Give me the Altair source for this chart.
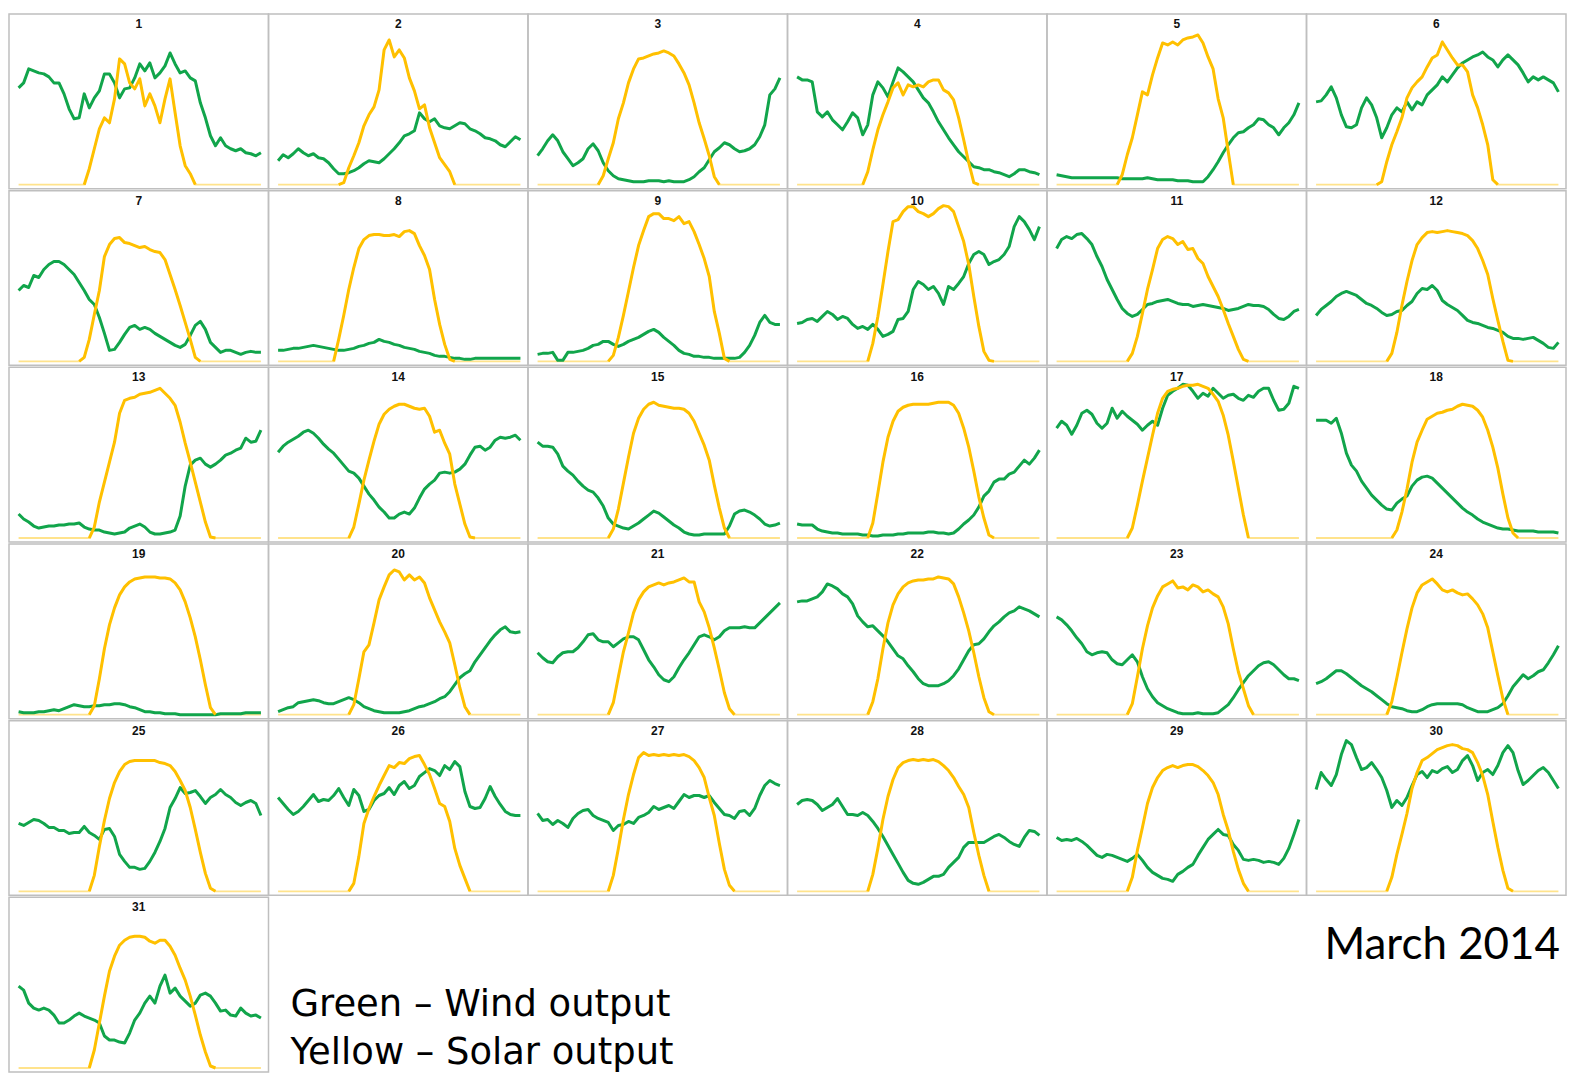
import altair as alt
import pandas as pd

# ---- wind output per day, half-hour steps (49 points, relative height units) ----
WIND_D01 = [97,102,116,114,112,111,108,102,102,91,76,66,67,91,77,87,94,111,111,102,87,96,97,107,121,114,122,107,112,119,132,121,112,114,107,104,82,67,49,39,47,39,36,34,36,32,31,29,32]
WIND_D02 = [24,30,27,31,36,32,29,31,27,26,22,16,11,11,12,14,17,21,24,23,22,26,31,36,42,49,51,54,72,66,63,66,59,57,56,59,62,61,56,54,51,47,46,44,40,38,43,48,45]
WIND_D03 = [29,36,44,50,44,33,26,19,22,26,36,41,34,22,14,9,6,5,4,3,3,3,4,4,4,3,4,3,3,3,5,8,13,17,25,33,37,42,40,36,33,34,36,40,48,60,90,96,107]
WIND_D04 = [108,105,105,103,73,68,73,65,60,55,63,72,67,50,60,90,103,97,88,103,117,113,108,103,95,87,82,73,63,55,47,40,33,28,23,18,17,15,15,13,12,10,8,11,15,15,13,12,10]
WIND_D05 = [10,9,8,7,7,7,7,7,7,7,7,7,7,6,6,6,6,6,7,6,5,5,5,5,4,4,4,3,3,3,8,15,23,32,40,47,52,53,57,60,66,65,60,57,50,57,62,70,82]
WIND_D06 = [83,84,90,98,87,70,58,57,60,77,87,80,67,47,57,70,77,73,83,75,83,80,90,95,100,108,103,110,117,122,125,128,130,133,128,125,118,125,130,125,120,112,103,108,105,108,105,102,93]
WIND_D07 = [71,76,74,86,84,92,97,100,100,97,92,87,79,71,62,57,44,28,11,12,19,27,34,36,32,34,32,28,25,22,19,16,14,17,26,36,40,32,19,14,9,11,11,9,7,9,10,9,9]
WIND_D08 = [11,11,12,13,13,14,15,16,15,14,13,12,11,11,12,13,15,16,18,19,22,20,19,17,16,14,13,12,10,9,8,6,5,5,4,3,3,2,2,3,3,3,3,3,3,3,3,3,3]
WIND_D09 = [7,8,8,9,1,1,9,9,10,11,13,16,17,20,20,17,15,17,20,22,24,27,30,32,29,24,20,16,11,8,7,5,5,4,4,3,3,3,3,3,4,9,16,26,39,46,39,37,37]
WIND_D10 = [38,39,42,43,40,45,50,47,42,45,43,37,33,35,32,37,32,25,27,30,42,43,50,72,80,77,72,75,68,57,75,72,78,85,98,107,110,107,97,100,102,107,115,135,145,140,132,122,135]
WIND_D11 = [113,122,125,123,127,128,123,117,105,95,82,72,62,53,48,45,47,52,57,58,60,61,62,60,58,57,57,55,56,57,56,55,54,53,51,52,53,55,57,56,56,55,52,47,43,42,45,50,52]
WIND_D12 = [46,52,56,60,65,68,70,68,66,62,58,56,53,49,46,47,50,51,56,60,68,73,72,76,71,61,57,54,51,46,41,39,38,36,34,33,31,29,25,23,23,22,23,24,21,18,14,13,19]
WIND_D13 = [24,19,16,12,10,11,12,12,13,13,14,14,15,11,9,8,8,6,5,4,5,6,10,12,14,11,6,4,4,5,6,8,22,52,73,78,80,74,71,74,78,83,85,88,90,100,96,97,108]
WIND_D14 = [86,92,96,99,102,106,108,105,100,94,89,85,79,73,67,65,60,52,44,38,31,26,20,20,24,26,24,30,40,49,54,58,65,66,65,66,69,74,83,91,92,88,91,98,101,100,101,103,98]
WIND_D15 = [96,92,92,91,84,72,67,63,57,52,48,46,40,32,20,14,12,10,9,12,15,19,23,27,25,21,17,13,10,6,4,3,3,4,4,4,4,4,12,24,27,28,26,23,19,14,12,13,15]
WIND_D16 = [14,13,13,13,9,7,6,5,5,4,4,4,4,3,3,2,2,3,3,3,4,4,5,5,5,5,6,6,5,5,4,5,9,14,18,23,31,42,47,56,59,59,64,66,72,78,74,80,88]
WIND_D17 = [110,117,113,104,113,125,128,124,115,110,115,130,120,127,122,118,114,108,113,117,113,130,143,147,150,154,153,147,140,145,142,150,145,140,143,144,140,138,143,141,147,150,150,138,128,129,135,152,150]
WIND_D18 = [118,118,118,115,120,105,85,73,67,57,50,43,38,33,29,28,35,39,42,52,58,61,62,60,55,50,45,40,35,30,26,23,19,16,14,12,10,9,9,8,7,7,7,7,6,6,6,6,5]
WIND_D19 = [3,2,2,2,3,3,4,5,4,6,8,10,9,8,8,9,9,10,10,11,11,10,8,7,5,3,3,2,2,1,1,1,0,0,0,0,0,0,0,0,1,1,1,1,1,2,2,2,2]
WIND_D20 = [3,5,7,8,12,13,14,15,14,12,11,11,13,15,17,15,12,8,6,4,3,2,2,2,2,3,4,6,8,9,11,13,16,18,23,30,37,41,44,53,60,67,74,80,85,88,83,82,83]
WIND_D21 = [62,57,53,52,58,62,63,63,67,73,80,81,75,73,73,68,72,76,78,78,75,65,55,48,40,35,33,38,47,55,62,70,78,80,78,75,78,84,87,87,87,88,87,87,92,97,102,107,112]
WIND_D22 = [113,114,114,116,118,123,131,129,126,121,118,111,99,93,88,89,84,79,73,66,59,56,49,43,36,31,29,29,29,31,34,39,46,55,64,70,71,76,83,89,93,98,102,104,108,106,104,101,98]
WIND_D23 = [98,95,90,84,77,71,63,60,62,63,62,55,51,50,55,60,53,38,26,18,12,9,6,4,2,1,1,1,2,1,1,1,2,6,10,17,25,32,39,44,49,52,53,50,45,40,36,36,34]
WIND_D24 = [31,33,36,40,44,44,41,37,33,29,26,23,19,15,11,8,7,6,4,3,3,5,8,10,11,11,11,11,11,10,7,5,3,3,3,5,7,11,19,28,34,40,36,39,43,45,52,60,69]
WIND_D25 = [68,66,69,72,71,68,64,64,61,61,58,59,59,65,59,56,52,62,63,55,37,30,24,24,22,23,30,39,50,63,84,93,104,98,99,101,95,88,94,97,102,97,94,89,86,89,91,88,76]
WIND_D26 = [94,88,82,77,80,85,91,97,90,92,91,96,103,94,86,102,96,80,82,91,96,98,104,97,106,110,103,106,115,119,123,121,116,126,122,130,125,100,85,83,84,93,105,95,87,80,77,76,76]
WIND_D27 = [78,71,72,67,71,68,64,73,78,81,82,76,73,71,69,61,66,67,70,68,74,76,79,85,82,84,86,83,90,97,94,96,96,94,96,89,83,77,76,73,80,81,76,83,96,106,111,108,106]
WIND_D28 = [87,91,92,91,87,81,84,87,93,85,77,77,76,79,76,70,63,55,46,37,28,19,11,8,7,9,12,15,15,17,24,29,34,44,49,49,49,49,52,55,57,54,50,47,45,54,61,60,56]
WIND_D29 = [54,51,52,51,53,50,46,41,36,34,37,36,34,32,30,33,37,31,24,19,16,13,12,10,17,20,24,27,36,44,52,57,62,57,56,47,41,32,31,32,31,29,30,29,27,33,43,57,72]
WIND_D30 = [102,119,112,106,117,137,151,147,134,122,124,129,122,114,101,84,91,86,94,106,117,120,114,121,119,123,125,119,122,131,136,126,111,119,122,117,126,139,146,139,121,107,111,116,121,124,119,111,103]
WIND_D31 = [82,78,65,60,58,60,58,53,45,45,48,52,55,52,50,48,45,32,28,28,26,25,35,48,55,65,72,65,82,93,75,80,72,67,62,65,73,75,72,65,57,58,53,52,60,55,52,53,50]

# ---- solar output per day: daylight part only, starting at half-hour index SOLAR_START ----
SOLAR_START = [13,12,12,13,12,12,12,11,14,14,14,14,14,14,14,14,14,15,14,14,14,14,14,14,14,14,14,14,14,14,14]
SOLAR_D01 = [0,16,36,56,67,62,86,126,121,102,96,106,79,91,79,62,86,106,72,39,19,11,0]
SOLAR_D02 = [0,2,17,29,42,59,70,78,95,135,145,128,135,127,107,94,76,80,57,42,27,20,13,0]
SOLAR_D03 = [0,9,26,42,66,82,102,116,126,127,129,131,132,134,132,129,121,112,100,82,62,46,29,8,0]
SOLAR_D04 = [0,13,35,55,70,83,97,102,90,100,98,100,98,103,105,105,95,92,85,67,45,22,2,0]
SOLAR_D05 = [0,10,30,47,70,93,90,110,127,142,140,143,140,145,147,148,150,142,128,116,86,67,33,0]
SOLAR_D06 = [0,3,23,40,53,67,87,97,103,108,118,127,130,143,135,127,120,120,113,90,77,60,40,5,0]
SOLAR_D07 = [0,4,22,47,71,105,117,123,124,119,118,116,114,115,112,110,109,102,87,72,56,39,22,4,0]
SOLAR_D08 = [0,22,46,72,94,113,122,126,127,127,126,126,127,125,130,131,128,116,106,92,62,37,17,2,0]
SOLAR_D09 = [0,6,24,46,70,94,116,131,145,148,148,143,143,141,145,138,140,130,117,103,85,50,28,3,0]
SOLAR_D10 = [0,18,45,77,110,140,142,150,155,155,150,148,145,148,153,156,155,150,135,120,97,65,35,10,1,0]
SOLAR_D11 = [0,8,25,48,72,92,113,122,125,123,117,120,112,113,103,98,85,75,65,52,38,25,12,2,0]
SOLAR_D12 = [0,8,29,56,80,101,117,124,129,130,129,130,131,130,129,128,126,121,113,101,87,63,41,20,1,0]
SOLAR_D13 = [0,11,36,56,76,96,125,138,140,141,144,145,146,148,150,145,140,133,116,95,76,56,36,16,1,0]
SOLAR_D14 = [0,11,34,58,78,97,114,124,129,132,134,134,132,130,129,130,122,106,108,95,84,54,34,14,1,0]
SOLAR_D15 = [0,9,29,55,81,105,120,129,134,136,133,132,131,130,130,129,125,117,105,93,78,53,30,10,0]
SOLAR_D16 = [0,15,45,76,101,117,127,131,133,134,134,134,134,135,136,136,136,133,125,110,91,67,41,20,3,0]
SOLAR_D17 = [0,10,33,57,80,103,125,140,147,149,150,152,153,153,154,152,150,144,137,123,103,77,50,23,0]
SOLAR_D18 = [0,8,26,49,76,96,108,119,122,125,126,128,129,132,134,133,132,128,121,108,91,70,44,20,5,0]
SOLAR_D19 = [0,9,36,66,90,107,120,128,133,136,137,138,138,138,137,137,136,132,125,113,97,78,55,30,7,0]
SOLAR_D20 = [0,10,36,63,70,92,115,128,140,145,143,135,140,135,138,132,117,105,93,83,72,50,27,8,0]
SOLAR_D21 = [0,12,38,63,82,102,115,123,128,130,132,130,132,133,135,137,133,133,113,103,87,67,45,22,6,0]
SOLAR_D22 = [0,13,36,66,92,110,121,128,132,134,135,135,136,136,138,137,136,131,118,102,84,62,38,17,3,0]
SOLAR_D23 = [0,11,38,66,89,107,119,128,131,134,127,128,125,130,128,123,125,121,118,108,91,66,43,26,9,0]
SOLAR_D24 = [0,13,37,62,86,107,122,130,133,136,131,125,123,125,122,120,121,116,110,101,87,63,39,16,0]
SOLAR_D25 = [0,16,45,71,93,109,120,127,130,131,131,131,131,131,129,128,126,120,111,101,84,62,39,18,3,0]
SOLAR_D26 = [0,8,35,68,83,95,106,116,126,124,129,128,133,135,136,127,117,103,88,85,70,43,26,13,0]
SOLAR_D27 = [0,16,43,72,97,117,134,139,136,137,136,137,136,137,136,137,135,131,124,114,94,76,48,22,6,0]
SOLAR_D28 = [0,17,43,72,95,112,124,129,131,132,131,132,131,132,130,126,121,114,105,97,84,59,36,16,0]
SOLAR_D29 = [0,14,41,64,88,104,114,121,124,126,124,126,127,127,125,121,116,109,97,77,61,40,22,8,0]
SOLAR_D30 = [0,14,37,57,78,103,119,131,134,138,142,144,146,147,146,143,142,139,129,116,97,70,44,21,3,0]
SOLAR_D31 = [0,18,45,72,97,112,123,128,131,132,132,131,127,125,128,128,122,113,100,88,72,53,33,16,2,0]

DAY_LABELS = [str(i) for i in range(1, 32)]
LEGEND_LINES = ["Green \u2013 Wind output", "Yellow \u2013 Solar output"]
MONTH_LABEL = "March 2014"

WIND = [WIND_D01, WIND_D02, WIND_D03, WIND_D04, WIND_D05, WIND_D06, WIND_D07, WIND_D08,
        WIND_D09, WIND_D10, WIND_D11, WIND_D12, WIND_D13, WIND_D14, WIND_D15, WIND_D16,
        WIND_D17, WIND_D18, WIND_D19, WIND_D20, WIND_D21, WIND_D22, WIND_D23, WIND_D24,
        WIND_D25, WIND_D26, WIND_D27, WIND_D28, WIND_D29, WIND_D30, WIND_D31]
SOLAR = [SOLAR_D01, SOLAR_D02, SOLAR_D03, SOLAR_D04, SOLAR_D05, SOLAR_D06, SOLAR_D07, SOLAR_D08,
         SOLAR_D09, SOLAR_D10, SOLAR_D11, SOLAR_D12, SOLAR_D13, SOLAR_D14, SOLAR_D15, SOLAR_D16,
         SOLAR_D17, SOLAR_D18, SOLAR_D19, SOLAR_D20, SOLAR_D21, SOLAR_D22, SOLAR_D23, SOLAR_D24,
         SOLAR_D25, SOLAR_D26, SOLAR_D27, SOLAR_D28, SOLAR_D29, SOLAR_D30, SOLAR_D31]

rows = []
for d in range(31):
    w, s, st = WIND[d], SOLAR[d], SOLAR_START[d]
    for k in range(len(w)):
        j = k - st
        inside = 0 <= j < len(s)
        rows.append({"day": d + 1, "k": k, "wind": w[k],
                     "solar": s[j] if inside else 0, "sun": bool(inside)})
df = pd.DataFrame(rows)

W, H = 260, 175
GREEN = "#11A54B"
YELLOW = "#FFC000"
PALE = "#FFE38C"
XS = alt.Scale(domain=[-1.9, 49.5], nice=False, zero=False)
YS = alt.Scale(domain=[-4, 171], nice=False, zero=False)


def panel(d):
    base = alt.Chart().transform_filter(alt.datum.day == d)
    x = alt.X("k:Q", scale=XS, axis=None)
    zero_line = base.mark_line(color=PALE, strokeWidth=1.8).encode(
        x=x, y=alt.Y("solar:Q", scale=YS, axis=None))
    wind = base.mark_line(color=GREEN, strokeWidth=3, strokeJoin="round").encode(
        x=x, y=alt.Y("wind:Q", scale=YS, axis=None))
    sun = base.transform_filter(alt.datum.sun).mark_line(
        color=YELLOW, strokeWidth=3, strokeJoin="round").encode(
        x=x, y=alt.Y("solar:Q", scale=YS, axis=None))
    label = base.transform_filter(alt.datum.k == 0).mark_text(
        font="Liberation Sans", fontSize=12, fontWeight="bold", color="#111111",
        align="center", baseline="middle").encode(
        x=alt.value(W / 2), y=alt.value(10), text=alt.value(DAY_LABELS[d - 1]))
    return alt.layer(zero_line, wind, sun, label).properties(width=W, height=H)


grid_rows = []
for r in range(5):
    grid_rows.append(alt.hconcat(*[panel(r * 6 + c + 1) for c in range(6)],
                                 spacing=0, bounds="flush"))

txt_df = pd.DataFrame({"line": LEGEND_LINES, "order": [0, 1]})
legend_text = alt.Chart(txt_df).mark_text(
    font="DejaVu Sans", fontSize=37, color="#000000", align="left",
    baseline="alphabetic").encode(
    x=alt.value(22),
    y=alt.Y("order:Q", scale=alt.Scale(domain=[0, 1], range=[119, 167], nice=False, zero=False), axis=None),
    text="line:N")
month_text = alt.Chart(pd.DataFrame({"t": [MONTH_LABEL]})).mark_text(
    font="Lato", fontSize=44, color="#000000", align="right",
    baseline="alphabetic").encode(
    x=alt.value(5 * W - 6), y=alt.value(62), text="t:N")
text_area = alt.layer(legend_text, month_text).properties(
    width=5 * W, height=H, view=alt.ViewBackground(strokeOpacity=0))

grid_rows.append(alt.hconcat(panel(31), text_area, spacing=0, bounds="flush"))

chart = alt.vconcat(*grid_rows, spacing=0, data=df).properties(
    padding={"left": 0, "top": 4, "right": 0, "bottom": 0}
).configure_view(stroke="#BFBFBF", strokeWidth=1.5)

chart.save("out.html", embed_options={"renderer": "svg", "actions": False})
